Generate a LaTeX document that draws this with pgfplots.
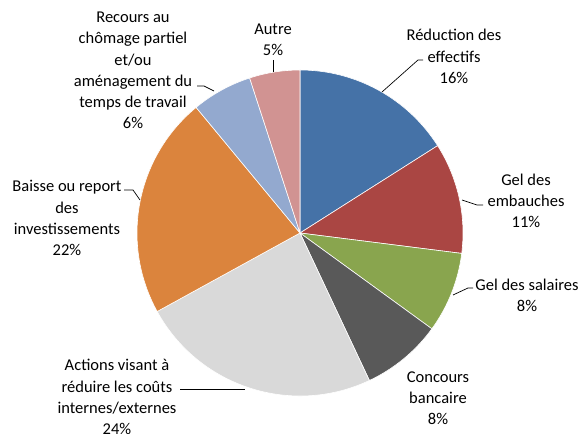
\documentclass[border=0pt]{standalone}
\usepackage{fontspec}
\setmainfont{Carlito}
\usepackage{pgfplots}
\usepackage{pgfplotstable}
\pgfplotsset{compat=1.18}
\definecolor{cBlue}{HTML}{4572A7}
\definecolor{cRed}{HTML}{AA4643}
\definecolor{cGreen}{HTML}{89A54E}
\definecolor{cDark}{HTML}{595959}
\definecolor{cLight}{HTML}{D9D9D9}
\definecolor{cOrange}{HTML}{DB843D}
\definecolor{cLBlue}{HTML}{93A9CF}
\definecolor{cPink}{HTML}{D19392}

% shares in percent, clockwise from 12 o'clock
\pgfplotstableread{
value color
16 cBlue
11 cRed
8  cGreen
8  cDark
24 cLight
22 cOrange
6  cLBlue
5  cPink
}\piedata

\begin{document}
\begin{tikzpicture}
\begin{axis}[
  scale only axis,
  width=582bp, height=434bp,
  xmin=0, xmax=582, ymin=0, ymax=434,
  hide axis,
  clip=false,
]
\gdef\angA{90}
\pgfplotstableforeachcolumnelement{value}\of\piedata\as\val{%
  \pgfplotstablegetelem{\pgfplotstablerow}{color}\of\piedata
  \let\col\pgfplotsretval
  \pgfmathsetmacro\angB{\angA-3.6*\val}%
  \edef\temp{\noexpand\fill[\col,draw=white,line width=0.6bp]
    (axis cs:300,201) -- ++(\angA:163bp)
    arc[start angle=\angA,end angle=\angB,radius=163bp] -- cycle;}%
  \temp
  \xdef\angA{\angB}%
}

% leader lines (y measured from the bottom)
\begin{scope}[black, line width=0.7bp]
\draw (axis cs:382,342) -- (axis cs:418,374) -- (axis cs:423,374);
\draw (axis cs:462,234) -- (axis cs:477,229) -- (axis cs:483,229);
\draw (axis cs:453,139) -- (axis cs:468,146) -- (axis cs:473,146);
\draw (axis cs:180,45) -- (axis cs:245,45);
\draw (axis cs:124,244) -- (axis cs:133,244) -- (axis cs:140,234);
\draw (axis cs:197,348) -- (axis cs:204,348) -- (axis cs:214,343);
\draw (axis cs:273,374) -- (axis cs:273,362);
\end{scope}

\begin{scope}[every node/.style={align=center, inner sep=0pt,
    font=\fontsize{16.5bp}{21.2bp}\selectfont, text=black}]
\node at (axis cs:454,377.5) {Réduction des\\effectifs\\16\%};
\node at (axis cs:526,233) {Gel des\\embauches\\11\%};
\node at (axis cs:527,139) {Gel des salaires\\8\%};
\node at (axis cs:438,36) {Concours\\bancaire\\8\%};
\node at (axis cs:117,37) {Actions visant à\\réduire les coûts\\internes/externes\\24\%};
\node at (axis cs:67,216) {Baisse ou report\\des\\investissements\\22\%};
\node at (axis cs:133,363.5) {Recours au\\chômage partiel\\et/ou\\aménagement du\\temps de travail\\6\%};
\node at (axis cs:273,394) {Autre\\5\%};
\end{scope}
\end{axis}
\pgfresetboundingbox
\path[use as bounding box] (0,0) rectangle (582bp,434bp);
\end{tikzpicture}
\end{document}
